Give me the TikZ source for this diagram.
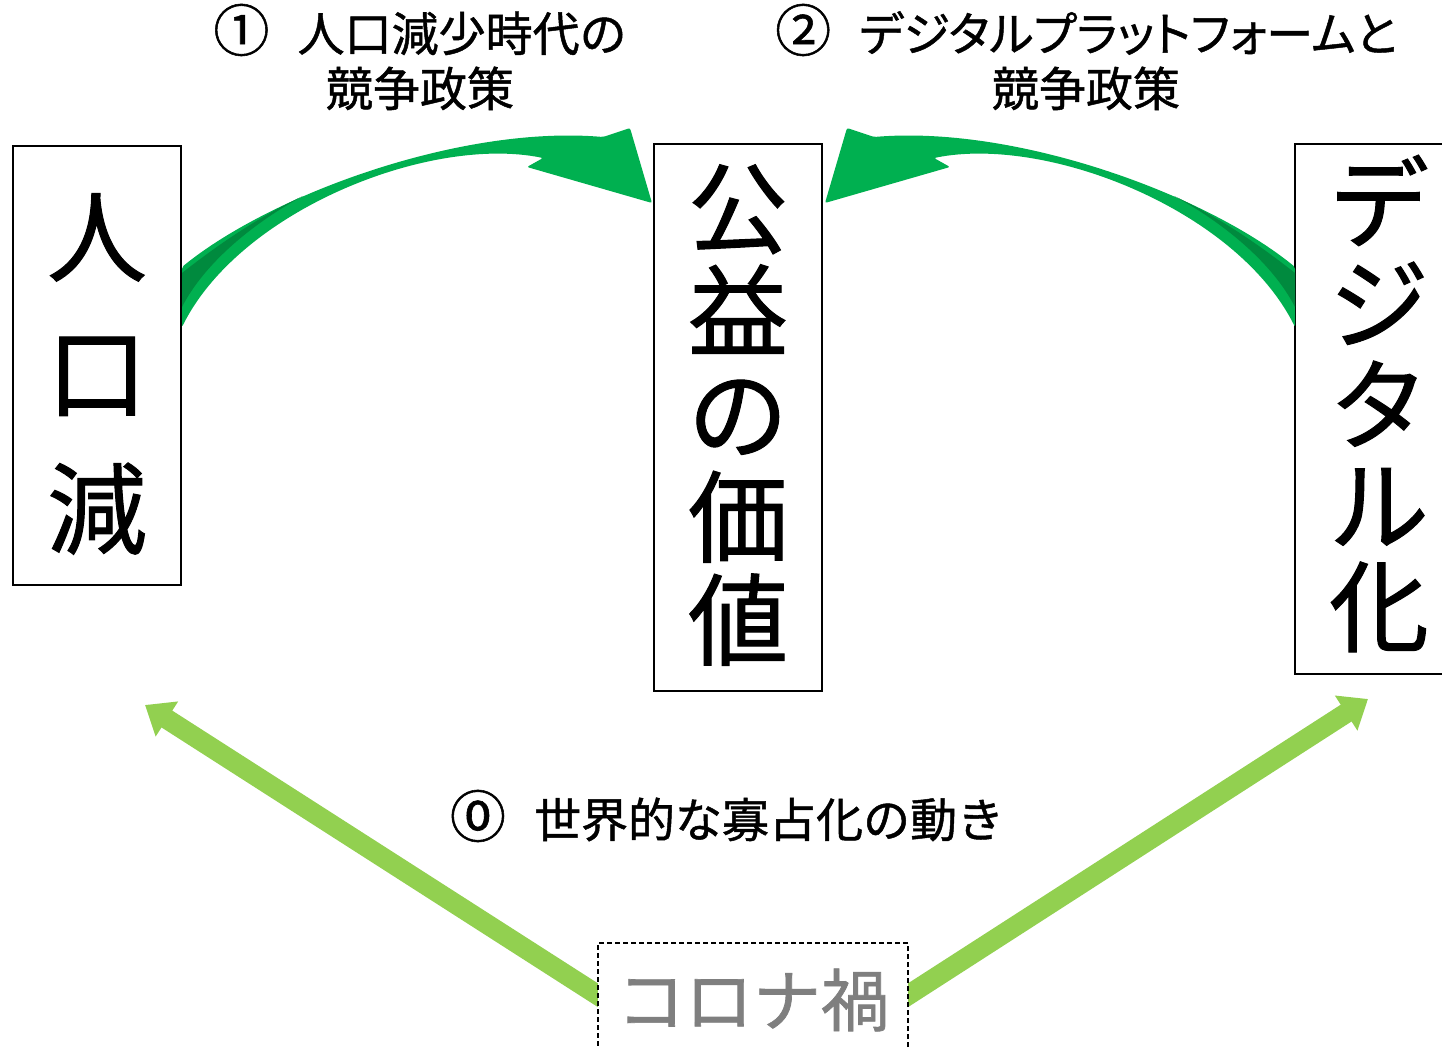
\documentclass[tikz,border=0pt]{standalone}
\usepackage{fontspec}
\setmainfont{Noto Sans CJK JP}[FakeBold=1]
\newfontfamily\jpp{Noto Sans CJK JP}[RawFeature=+palt, FakeBold=1]
\usetikzlibrary{arrows.meta,calc,backgrounds}
\definecolor{mygreen}{HTML}{00B050}
\definecolor{mydark}{HTML}{008A3E}
\definecolor{lgreen}{HTML}{92D050}
\definecolor{mygray}{HTML}{7F7F7F}
\newcommand{\circd}[1]{{\fontsize{28}{27.5}\selectfont #1}}
\tikzset{
  box/.style={draw=black, line width=0.9pt, minimum width=84pt, inner sep=0pt, fill=white},
  bigtxt/.style={align=center, inner sep=0pt},
  title/.style={align=center, font=\fontsize{23.5}{27.5}\selectfont, inner sep=0pt},
  thickarrow/.style={draw=lgreen, line width=10pt, -{Triangle[width=20pt,length=13pt]}},
  bandarrow/.style={fill=mygreen, rounded corners=1pt},
  bandback/.style={fill=mydark}
}
\begin{document}
\begin{tikzpicture}[x=0.5pt,y=-0.5pt]
\useasboundingbox (0,0) rectangle (1442,1049);

% boxes
\node[box, minimum height=219.5pt] (pop) at (97,365.5) {};
\node[bigtxt, font=\fontsize{50}{68}\selectfont] (poptxt) at ([yshift=-4.25pt]pop.center) {人\\口\\減};

\node[box, minimum height=273.5pt] (pub) at (738,417.5) {};
\node[bigtxt, font=\fontsize{50}{51.5}\selectfont] (pubtxt) at ([yshift=1.25pt]pub.center) {公\\益\\の\\価\\値};

\node[box, minimum height=265pt] (dig) at (1379,409) {};
\node[bigtxt, font=\fontsize{50}{50.5}\selectfont] (digtxt) at ([yshift=2.75pt]dig.center) {デ\\ジ\\タ\\ル\\化};

% curved arrow: 人口減 -> 公益の価値
\fill[bandarrow] (182,267) .. controls (270,195) and (460,125) .. (603,137)
  -- (630,128) -- (652,203) -- (527,167) -- (543,158)
  .. controls (430,135) and (240,210) .. (182,327) -- cycle;
\fill[bandback] (182,273) .. controls (220,243) and (262,215) .. (303,196)
  .. controls (255,222) and (205,262) .. (182,307) -- cycle;

% curved arrow: デジタル化 -> 公益の価値
\fill[bandarrow] (1295,267) .. controls (1207,195) and (1017,125) .. (874,137)
  -- (847,128) -- (825,203) -- (950,167) -- (934,158)
  .. controls (1047,135) and (1237,210) .. (1295,327) -- cycle;
\fill[bandback] (1295,273) .. controls (1257,243) and (1215,215) .. (1174,196)
  .. controls (1222,222) and (1272,262) .. (1295,307) -- cycle;

% titles
\node[title] (t1) at (420,57) {\circd{①}\hspace{0.6em}人口減少時代の\\競争政策};
\node[title] (t2) at (1086,57) {{\jpp \circd{②}\hspace{0.6em}デジタルプラットフォームと}\\競争政策};
\node[title] (t0) at (727,816) {\circd{⓪}\hspace{0.6em}世界的な寡占化の動き};

% corona box
\node[draw=black, line width=0.6pt, dash pattern=on 2.5pt off 1.5pt, fill=white,
      minimum width=155pt, minimum height=57pt, inner sep=0pt, text=mygray,
      font=\fontsize{34}{34}\selectfont] (cor) at (753,1000) {コロナ禍};

\coordinate (a0) at (145,705);
\coordinate (a1) at (1368,699);

\begin{scope}[on background layer]
  \fill[white] (0,0) rectangle (1442,1049);
  \draw[thickarrow] ($(cor.west)+(8,0)$) -- (a0);
  \draw[thickarrow] ($(cor.east)+(-8,0)$) -- (a1);
\end{scope}
\end{tikzpicture}
\end{document}
